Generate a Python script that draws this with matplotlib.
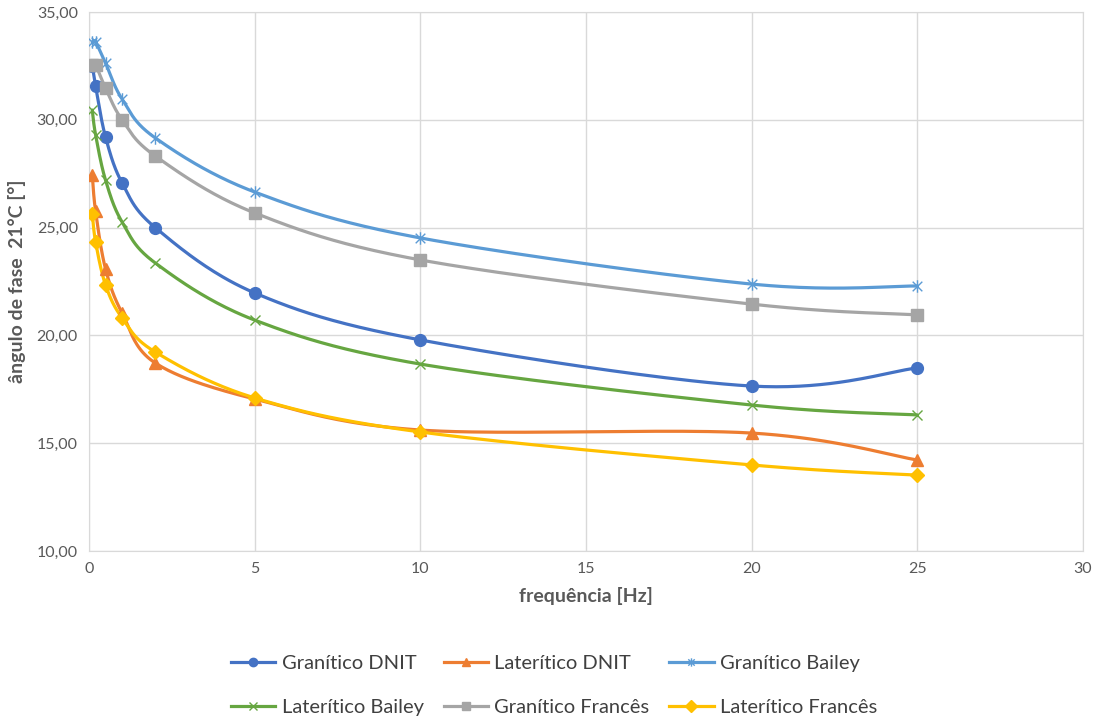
import numpy as np
import matplotlib
matplotlib.use("Agg")
import matplotlib.pyplot as plt
from matplotlib.path import Path
from matplotlib.lines import Line2D
from matplotlib.ticker import FuncFormatter

plt.rcParams['font.family'] = ['Lato', 'DejaVu Sans']

freq = [0.1, 0.2, 0.5, 1, 2, 5, 10, 20, 25]

granitico_dnit = [32.5, 31.55, 29.2, 27.07, 25.0, 21.97, 19.79, 17.65, 18.49]
lateritico_dnit = [27.44, 25.75, 23.08, 21.04, 18.72, 17.05, 15.61, 15.47, 14.22]
granitico_bailey = [33.6, 33.6, 32.63, 30.96, 29.16, 26.65, 24.52, 22.38, 22.29]
lateritico_bailey = [30.45, 29.3, 27.2, 25.26, 23.36, 20.71, 18.67, 16.77, 16.31]
granitico_frances = [32.54, 32.54, 31.47, 30.0, 28.32, 25.68, 23.5, 21.45, 20.95]
lateritico_frances = [25.65, 24.33, 22.34, 20.81, 19.23, 17.1, 15.52, 13.99, 13.52]

names = ["Granítico DNIT", "Laterítico DNIT", "Granítico Bailey",
         "Laterítico Bailey", "Granítico Francês", "Laterítico Francês"]
colors = ["#4472C4", "#ED7D31", "#5B9BD5", "#66A641", "#A5A5A5", "#FFC000"]

# asterisk marker like excel's "*" (x with a vertical bar)
star = Path([(-1, -1), (1, 1), (-1, 1), (1, -1), (0, -1.3), (0, 1.3)],
            [Path.MOVETO, Path.LINETO, Path.MOVETO, Path.LINETO, Path.MOVETO, Path.LINETO])


def smooth(x, y, n=40):
    # excel style smoothed line (catmull-rom bezier)
    p = np.column_stack([x, y]).astype(float)
    pts = []
    for i in range(len(p) - 1):
        p0 = p[max(i - 1, 0)]
        p1 = p[i]
        p2 = p[i + 1]
        p3 = p[min(i + 2, len(p) - 1)]
        c1 = p1 + (p2 - p0) / 6
        c2 = p2 - (p3 - p1) / 6
        t = np.linspace(0, 1, n)[:, None]
        seg = (1 - t) ** 3 * p1 + 3 * (1 - t) ** 2 * t * c1 + 3 * (1 - t) * t ** 2 * c2 + t ** 3 * p2
        pts.append(seg)
    pts = np.vstack(pts)
    return pts[:, 0], pts[:, 1]


fig = plt.figure(figsize=(11.08, 7.21), dpi=100)
ax = fig.add_axes([0.0803, 0.2358, 0.897, 0.7476])

series = [granitico_dnit, lateritico_dnit, granitico_bailey,
          lateritico_bailey, granitico_frances, lateritico_frances]
markers = ["o", "^", star, "x", "s", "D"]
msizes = [8.5, 8.5, 9, 7, 8.5, 7.5]
handles = []
for vals, name, c, m, ms in zip(series, names, colors, markers, msizes):
    sx, sy = smooth(freq, vals)
    ax.plot(sx, sy, color=c, lw=2.3, zorder=3, solid_capstyle='round')
    thin = m is star or m == "x"
    if thin:
        ax.plot(freq, vals, ls="none", marker=m, ms=ms, mec=c, mew=1.0, zorder=4)
    else:
        ax.plot(freq, vals, ls="none", marker=m, ms=ms, mfc=c, mec=c, zorder=4)
    handles.append(Line2D([], [], color=c, lw=2.3, marker=m, ms=6, mfc=c, mec=c,
                          mew=1.0 if thin else 1))

ax.set_xlim(0, 30)
ax.set_ylim(10, 35)
ax.set_xticks(range(0, 31, 5))
ax.set_yticks(range(10, 36, 5))
ax.yaxis.set_major_formatter(FuncFormatter(lambda v, p: f"{v:.2f}".replace(".", ",")))
ax.grid(True, color="#D9D9D9", lw=1)
ax.set_axisbelow(True)
for s in ax.spines.values():
    s.set_color("#D9D9D9")
ax.tick_params(length=0, labelsize=11.5, colors="#595959", pad=8)

ax.set_xlabel("frequência [Hz]", fontsize=14, fontweight="bold", color="#595959", labelpad=8)
ax.set_ylabel("ângulo de fase  21°C [°]", fontsize=14, fontweight="bold", color="#595959", labelpad=8)

order = [0, 3, 1, 4, 2, 5]
fig.legend([handles[i] for i in order], [names[i] for i in order], ncol=3,
           loc="center", bbox_to_anchor=(0.5, 0.049), frameon=False, fontsize=14.5,
           handlelength=2.2, handletextpad=0.3, columnspacing=1.0, labelspacing=1.35,
           labelcolor="#404040")

fig.savefig("out.png", dpi=100)
